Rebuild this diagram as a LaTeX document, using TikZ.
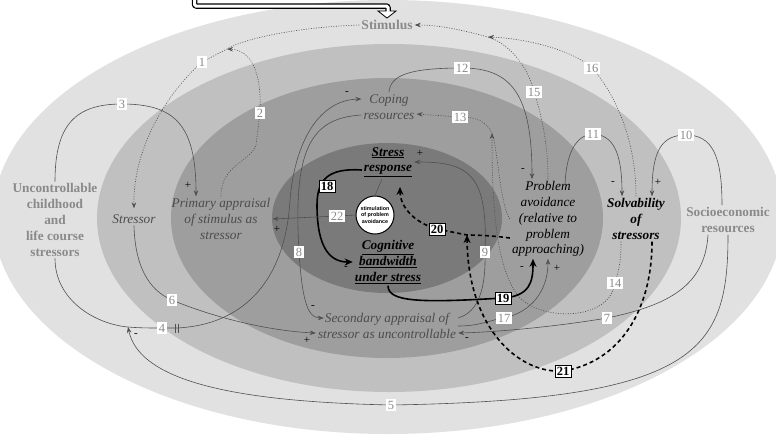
\documentclass[tikz,border=0pt]{standalone}
\usepackage{fontspec}
\setmainfont{Liberation Serif}
\newfontfamily\arialfont{Liberation Sans}
\usepackage{tikz}
\usetikzlibrary{arrows.meta, calc, positioning}
\definecolor{band1}{HTML}{E1E1E1}
\definecolor{band2}{HTML}{C0C0C0}
\definecolor{band3}{HTML}{9E9E9E}
\definecolor{band4}{HTML}{7A7A7A}
\definecolor{lbl}{HTML}{8A8A8A}
\definecolor{txt}{HTML}{4C4C4C}
\definecolor{ln}{HTML}{505050}
\tikzset{
    outertext/.style = {font=\fontsize{13.3}{15.8}\selectfont\bfseries, text=lbl, align=center, inner sep=2pt},
    midtext/.style = {font=\fontsize{13.3}{15.8}\selectfont\itshape, text=txt, align=center, inner sep=2pt},
    keytext/.style = {font=\fontsize{13.3}{15.8}\selectfont\bfseries\itshape, align=center, inner sep=2pt},
    num/.style = {fill=white, inner sep=1.8pt, text=lbl, font=\fontsize{12.5}{12.5}\selectfont},
    bnum/.style = {fill=white, draw=black, line width=0.5pt, inner sep=1.8pt, font=\fontsize{12.5}{12.5}\selectfont\bfseries},
    sign/.style = {inner sep=0pt, font=\fontsize{11}{11}\selectfont},
    conn/.style = {draw=ln, line width=0.6pt, -{Stealth[length=6pt, width=4.5pt]}},
    dconn/.style = {conn, dash pattern=on 1pt off 1.5pt},
    bconn/.style = {draw=black, line width=1.6pt, -{Stealth[length=8pt, width=7pt]}},
    bdconn/.style = {bconn, dash pattern=on 4pt off 3pt}
}

\begin{document}
\begin{tikzpicture}[x=1pt, y=-1pt]
    \fill[white] (0,0) rectangle (776,437);
    \useasboundingbox (0,0) rectangle (776,437);

    % nested rings
    \fill[band1] (388,217) ellipse [x radius=395, y radius=217];
    \fill[band2] (389,218) ellipse [x radius=292, y radius=174];
    \fill[band3] (387,218) ellipse [x radius=216, y radius=140];
    \fill[band4] (387,218) ellipse [x radius=115, y radius=75];

    \node[outertext, font=\fontsize{13.5}{15.8}\selectfont\bfseries] (stim) at (387,25) {Stimulus};
    \node[outertext] (uncon) at (55,220) {Uncontrollable\\childhood\\and\\life course\\stressors};
    \node[outertext] (socio) at (728,220) {Socioeconomic\\resources};
    \node[midtext] (stressor) at (134,219) {Stressor};
    \node[midtext] (primary) at (221,219) {Primary appraisal\\of stimulus as\\stressor};
    \node[midtext] (coping) at (389,107) {Coping\\resources};
    \node[midtext] (second) at (387,326) {Secondary appraisal of\\stressor as uncontrollable};
    \node[keytext] (solv) at (636,219) {Solvability\\of\\stressors};
    \node[midtext, text=black] (problem) at (548,219) {Problem\\avoidance\\(relative to\\problem\\approaching)};
    \node[keytext] (stressresp) at (388,162) {\underline{Stress}\\\underline{response}};
    \node[keytext] (cognitive) at (388,262) {\underline{Cognitive}\\\underline{bandwidth}\\\underline{under stress}};
    \node[circle, draw, line width=1pt, fill=white, minimum size=38pt, inner sep=0pt, align=center,
          font={\arialfont\bfseries\fontsize{5.4}{6.6}\selectfont}] (circ) at (375,215) {stimulation\\of problem\\avoidance};

    % feed arrow into the stimulus
    \coordinate (feed) at (194.5,-4);
    \coordinate (feedbend) at (388,6);
    \coordinate (feedend) at (388,12);
    \draw[line width=5.5pt, rounded corners=2pt] (feed) |- (feedbend) -- (feedend);
    \draw[fill=white, line width=0.8pt] ([xshift=-9pt, yshift=7pt]stim.north) -- ([xshift=9pt, yshift=7pt]stim.north) -- (stim.north) -- cycle;
    \draw[white, line width=3pt, rounded corners=1.5pt] (feed) |- (feedbend) -- ([yshift=-1.5pt]feedend);

    % label spots and junctions
    \coordinate (l1) at (202,62);  \coordinate (l2) at (260,113); \coordinate (l3) at (122,104);
    \coordinate (l4) at (162,328); \coordinate (l5) at (391,405); \coordinate (l6) at (172,300);
    \coordinate (l7) at (607,318); \coordinate (l8) at (299,252); \coordinate (l9) at (485,252);
    \coordinate (l10) at (686,135); \coordinate (l11) at (593,134); \coordinate (l12) at (462,68);
    \coordinate (l13) at (460,117); \coordinate (l14) at (615,283); \coordinate (l15) at (534,92);
    \coordinate (l16) at (592,68); \coordinate (l17) at (504,318); \coordinate (l18) at (327,186);
    \coordinate (l19) at (503,298); \coordinate (l20) at (437,229); \coordinate (l21) at (563,371);
    \coordinate (l22) at (337,216);
    \coordinate (m1) at (227,49);
    \coordinate (m4) at (128,327);
    \coordinate (d4) at (177,328);
    \coordinate (m13) at (492,133);
    \coordinate (m15) at (488,37);
    \coordinate (m20) at (467,235);

    \draw[dconn] (stim.west) .. controls (300,27) and (245,38) .. (m1) -- (l1) .. controls (165,95) and (133,150) .. ([yshift=4pt]stressor.north);
    \draw[dconn] (primary.north) .. controls (221,165) and (250,162) .. (256,145) -- (l2) .. controls (262,70) and (250,50) .. (m1);
    \draw[conn] (uncon.north) .. controls (55,125) and (75,104) .. (l3) .. controls (175,104) and (196,125) .. ([xshift=-25pt]primary.north);
    \draw[conn] (uncon.south) .. controls (55,300) and (95,324) .. (m4) .. controls (140,328) and (150,328) .. (l4) -- (d4)
        .. controls (240,325) and (285,285) .. (290,200) .. controls (295,140) and (320,100) .. ([yshift=8pt]coping.west);
    \draw[conn] (socio.south) .. controls (728,350) and (700,400) .. (l5) .. controls (250,402) and (140,385) .. (m4);
    \draw[conn] (stressor.south) .. controls (135,265) and (148,290) .. (l6) .. controls (215,318) and (270,331) .. ([yshift=-7pt]second.west);
    \draw[conn] ([xshift=-20pt]socio.south) .. controls (705,285) and (670,305) .. (l7) .. controls (560,326) and (500,332) .. ([yshift=-7pt]second.east);
    \draw[conn] ([yshift=-8pt]coping.west) .. controls (310,118) and (293,150) .. (l8) .. controls (302,295) and (306,318) .. ([xshift=8pt, yshift=8pt]second.west);
    \draw[conn] ([yshift=8pt]second.east) .. controls (478,312) and (486,290) .. (l9) .. controls (488,175) and (470,162) .. (stressresp.east);
    \draw[conn] ([xshift=-6pt]socio.north) .. controls (722,155) and (712,135) .. (l10) .. controls (662,135) and (652,150) .. ([xshift=16pt]solv.north);
    \draw[conn] ([xshift=17pt, yshift=-6pt]problem.north) .. controls (566,155) and (575,135) .. (l11) .. controls (612,135) and (622,150) .. ([xshift=-14pt]solv.north);
    \draw[conn] (coping.north) .. controls (390,75) and (410,68) .. (l12) .. controls (512,68) and (532,95) .. ([xshift=-16pt]problem.north);
    \draw[dconn] (problem.west) .. controls (500,205) and (498,150) .. (m13) .. controls (486,122) and (478,117) .. (l13) -- ([yshift=-7pt]coping.east);
    \draw[dconn] ([xshift=-15pt]solv.south) .. controls (621,265) and (618,272) .. (l14) .. controls (610,320) and (545,322) .. (520,298) .. controls (495,270) and (492,200) .. (m13);
    \draw[dconn] (problem.north) .. controls (548,140) and (540,110) .. (l15) .. controls (527,62) and (505,42) .. (m15) .. controls (462,30) and (440,25) .. (stim.east);
    \draw[dconn] (solv.north) .. controls (636,135) and (612,90) .. (l16) .. controls (570,48) and (520,38) .. (m15);
    \draw[conn] (second.east) .. controls (480,326) and (490,320) .. (l17) .. controls (532,312) and (548,290) .. (problem.south);
    \draw[bconn] ([yshift=-8pt]stressresp.west) .. controls (330,168) and (317,178) .. (317,205) .. controls (317,248) and (330,262) .. (cognitive.west);
    \draw[bconn] (cognitive.south) .. controls (388,302) and (420,303) .. (l19) .. controls (530,296) and (533,282) .. ([xshift=-15pt]problem.south);
    \draw[bdconn] ([yshift=-19pt]problem.west) .. controls (495,236) and (480,235) .. (m20) -- (l20) .. controls (412,222) and (400,205) .. ([xshift=12pt, yshift=-8pt]stressresp.south);
    \draw[bdconn] ([xshift=16pt]solv.south) .. controls (652,310) and (620,362) .. (l21) .. controls (520,374) and (468,330) .. (m20);
    \draw[conn] (circ.west) -- (l22) -- (primary.east);
    \draw[ln, line width=0.5pt] (circ.north) -- ([xshift=-6pt]stressresp.south);

    % delay mark on 4
    \node[inner sep=0pt, text=ln] (delay) at (d4) {\rule{1.4pt}{9pt}\hspace{1.2pt}\rule{1.4pt}{9pt}};

    % signs
    \node[sign] (s3) at (188,185) {+};
    \node[sign] (s4) at (347,93) {-};
    \node[sign] (s5) at (136,335) {-};
    \node[sign] (s6) at (307,340) {+};
    \node[sign] (s7) at (467,339) {-};
    \node[sign] (s8) at (313,307) {-};
    \node[sign] (s9) at (420,153) {+};
    \node[sign] (s10) at (658,182) {+};
    \node[sign] (s11) at (613,183) {-};
    \node[sign] (s12) at (523,170) {-};
    \node[sign] (s17) at (557,268) {+};
    \node[sign] (s18) at (346,268) {-};
    \node[sign] (s19) at (522,268) {-};
    \node[sign] (s22) at (277,229) {+};

    % numbers
    \node[num] (n1) at (l1) {1};   \node[num] (n2) at (l2) {2};   \node[num] (n3) at (l3) {3};
    \node[num] (n4) at (l4) {4};   \node[num] (n5) at (l5) {5};   \node[num] (n6) at (l6) {6};
    \node[num] (n7) at (l7) {7};   \node[num] (n8) at (l8) {8};   \node[num] (n9) at (l9) {9};
    \node[num] (n10) at (l10) {10}; \node[num] (n11) at (l11) {11}; \node[num] (n12) at (l12) {12};
    \node[num] (n13) at (l13) {13}; \node[num] (n14) at (l14) {14}; \node[num] (n15) at (l15) {15};
    \node[num] (n16) at (l16) {16}; \node[num] (n17) at (l17) {17}; \node[num] (n22) at (l22) {22};
    \node[bnum] (n18) at (l18) {18}; \node[bnum] (n19) at (l19) {19};
    \node[bnum] (n20) at (l20) {20}; \node[bnum] (n21) at (l21) {21};
\end{tikzpicture}
\end{document}
